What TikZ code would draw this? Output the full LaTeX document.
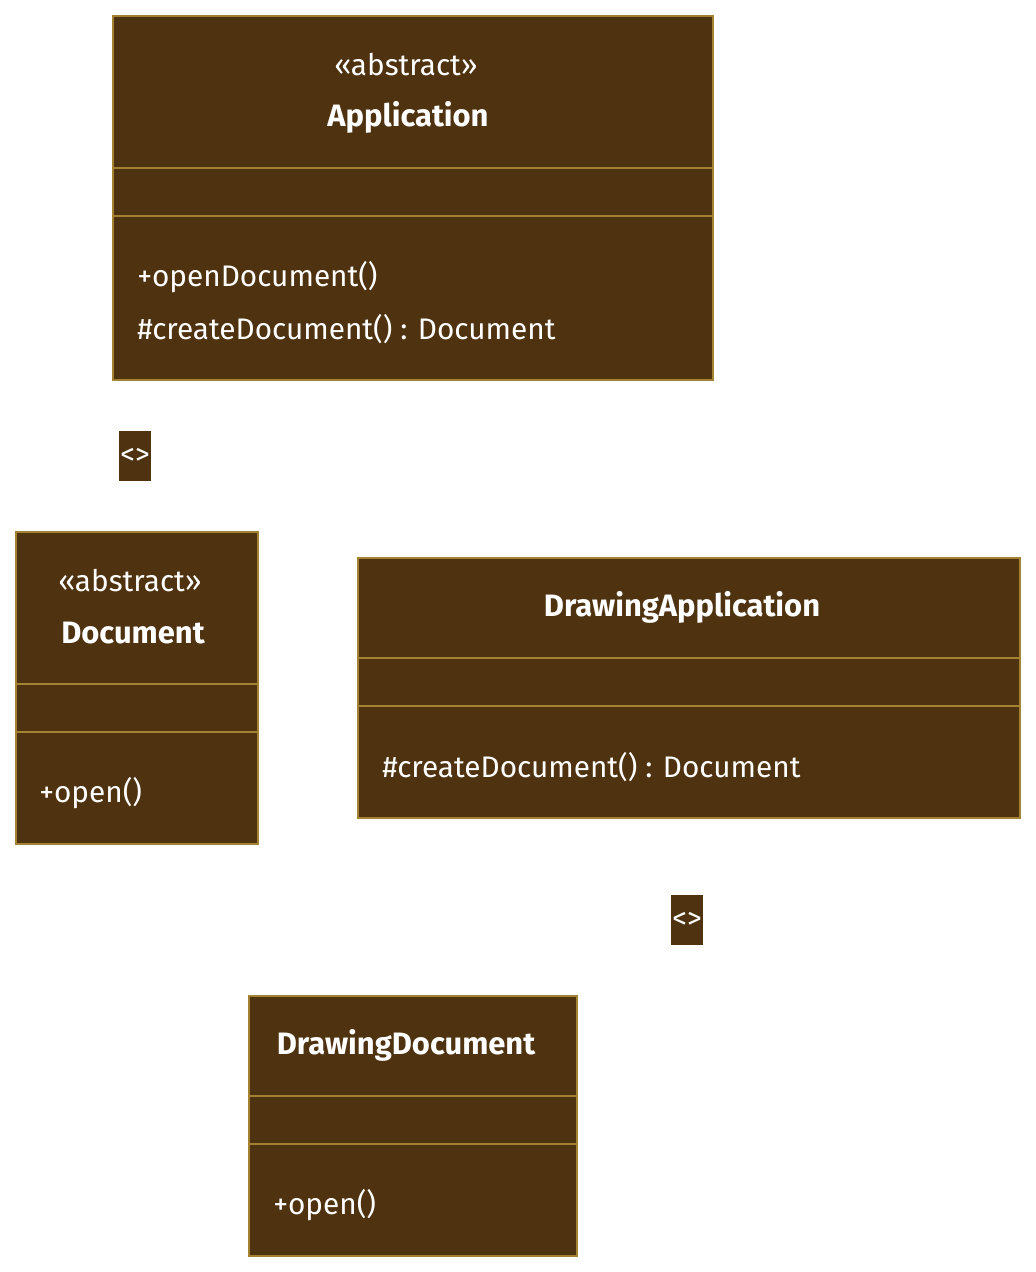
\documentclass[tikz,border=0pt]{standalone}
\usepackage{fontspec}
\setmainfont{Fira Sans}
\definecolor{boxfill}{RGB}{79,50,16}
\definecolor{boxline}{RGB}{163,130,50}
\begin{document}
\begin{tikzpicture}[x=0.75pt,y=-0.75pt,
  cls/.style={draw=boxline,fill=boxfill,line width=1.5pt},
  sep/.style={draw=boxline,line width=1.2pt},
  txt/.style={text=white,font=\fontsize{22.3}{26}\selectfont,inner sep=0pt},
  btxt/.style={text=white,font=\fontsize{23.2}{27}\selectfont\bfseries,inner sep=0pt},
  tag/.style={fill=boxfill,text=white,font=\fontsize{22}{24}\selectfont,inner sep=0pt,minimum width=24pt,minimum height=38pt}]
\useasboundingbox (0,0) rectangle (1036,1272);
% Application
\path[cls] (113,16) rectangle (713,380);
\draw[sep] (113,168) -- (713,168);
\draw[sep] (113,216) -- (713,216);
\node[txt] (appst) at (406,65) {«abstract»};
\node[btxt] (appn) at (408,117) {Application};
\node[txt,anchor=west] (appm1) at (137,277) {+openDocument()};
\node[txt,anchor=west] (appm2) at (137,329) {\#createDocument() : Document};
% tag 1
\node[tag] (tag1) at (135,456) {<>};
% Document
\path[cls] (16,532) rectangle (258,844);
\draw[sep] (16,684) -- (258,684);
\draw[sep] (16,732) -- (258,732);
\node[txt] (docst) at (130,581) {«abstract»};
\node[btxt] (docn) at (133,633) {Document};
\node[txt,anchor=west] (docm1) at (39,793) {+open()};
% DrawingApplication
\path[cls] (358,558) rectangle (1020,818);
\draw[sep] (358,658) -- (1020,658);
\draw[sep] (358,706) -- (1020,706);
\node[btxt] (dan) at (682,607) {DrawingApplication};
\node[txt,anchor=west] (dam1) at (382,767) {\#createDocument() : Document};
% tag 2
\node[tag] (tag2) at (687,920) {<>};
% DrawingDocument
\path[cls] (249,996) rectangle (577,1256);
\draw[sep] (249,1096) -- (577,1096);
\draw[sep] (249,1144) -- (577,1144);
\node[btxt] (ddn) at (406,1045) {DrawingDocument};
\node[txt,anchor=west] (ddm1) at (273,1205) {+open()};
\end{tikzpicture}
\end{document}
